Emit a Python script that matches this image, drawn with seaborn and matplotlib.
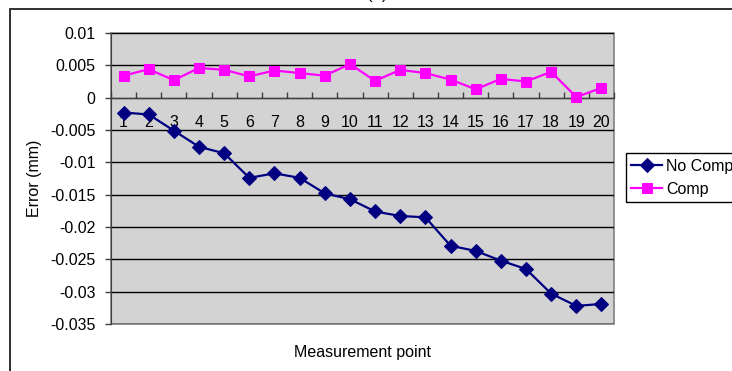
import matplotlib
matplotlib.use("Agg")
import matplotlib.pyplot as plt
from matplotlib.patches import Rectangle
from matplotlib.ticker import FixedLocator, FixedFormatter
import seaborn as sns
import pandas as pd

plt.rcParams["font.family"] = ["Liberation Sans", "DejaVu Sans"]

# Measurement points and errors (mm)
points = list(range(1, 21))
no_comp = [-0.0023, -0.0026, -0.0051, -0.0076, -0.0086, -0.0124, -0.0117, -0.0124,
           -0.0148, -0.0157, -0.0176, -0.0183, -0.0185, -0.0229, -0.0237, -0.0252,
           -0.0265, -0.0303, -0.0322, -0.0319]
comp = [0.0034, 0.0044, 0.0027, 0.0046, 0.0043, 0.0033, 0.0042, 0.0038, 0.0034,
        0.0052, 0.0026, 0.0043, 0.0038, 0.0028, 0.0013, 0.0029, 0.0025, 0.0040,
        0.0001, 0.0015]
y_ticks = [0.01, 0.005, 0, -0.005, -0.01, -0.015, -0.02, -0.025, -0.03, -0.035]
y_tick_labels = ["0.01", "0.005", "0", "-0.005", "-0.01", "-0.015", "-0.02",
                 "-0.025", "-0.03", "-0.035"]

df = pd.DataFrame({"point": points, "No Comp": no_comp, "Comp": comp})

FS = 11.5
W, H = 732, 371
fig = plt.figure(figsize=(W / 100, H / 100), dpi=100)

# outer chart-area frame
fig.patches.append(Rectangle((10 / W, -0.1), 1.0, 1.1 - 9 / H,
                             transform=fig.transFigure, fill=False,
                             edgecolor="#202020", linewidth=1.3, zorder=0))
fig.text(377 / W, 1 + 1 / H, "(b)", ha="center", va="baseline", fontsize=12)

ax = fig.add_axes([111 / W, 1 - 324 / H, 503 / W, 291 / H])
ax.set_facecolor("#d3d3d3")
ax.patch.set_edgecolor("#808080")
ax.patch.set_linewidth(1.2)

sns.lineplot(data=df, x="point", y="No Comp", ax=ax, color="#000080",
             marker="D", markersize=7, markeredgecolor="#000080",
             linewidth=1.6, label="No Comp", zorder=4)
sns.lineplot(data=df, x="point", y="Comp", ax=ax, color="#ff00ff",
             marker="s", markersize=6.5, markeredgecolor="#ff00ff",
             linewidth=1.6, label="Comp", zorder=4)

ax.set_xlim(0.5, 20.5)
ax.set_ylim(-0.035, 0.01)

# y axis
ax.yaxis.set_major_locator(FixedLocator(y_ticks))
ax.yaxis.set_major_formatter(FixedFormatter(y_tick_labels))
ax.tick_params(axis="y", direction="out", length=4, width=1, color="#404040",
               labelsize=FS, pad=7)
ax.grid(axis="y", color="black", linewidth=1)
ax.grid(axis="x", visible=False)
ax.set_axisbelow(True)

# category axis crossing at zero, with ticks between categories
ax.spines["top"].set_visible(False)
ax.spines["right"].set_visible(False)
ax.spines["left"].set_color("#404040")
ax.spines["bottom"].set_position(("data", 0))
ax.spines["bottom"].set_color("#404040")
ax.set_xticks(points)
ax.set_xticklabels([str(p) for p in points])
ax.set_xticks([p + 0.5 for p in range(0, 21)], minor=True)
ax.tick_params(axis="x", which="major", length=0, labelsize=FS, pad=12.5)
ax.tick_params(axis="x", which="minor", direction="in", length=4, width=1,
               color="#404040")

ax.set_xlabel("Measurement point", fontsize=FS)
ax.xaxis.label.set_va("center")
ax.xaxis.set_label_coords(0.5, (324 - 352.7) / 291)
ax.set_ylabel("Error (mm)", fontsize=FS)
ax.yaxis.label.set_va("center")
ax.yaxis.set_label_coords((35 - 111) / 503, 0.5)

ax.legend_.remove()
handles, labels = ax.get_legend_handles_labels()
fig.legend(handles, labels, loc="upper left",
           bbox_to_anchor=(625.7 / W, 1 - 153.3 / H), borderaxespad=0,
           frameon=True, fancybox=False, edgecolor="black", framealpha=1,
           fontsize=FS, handlelength=1.95, handletextpad=0.23,
           borderpad=0.35, labelspacing=0.5)

fig.savefig("out.png", dpi=100)
